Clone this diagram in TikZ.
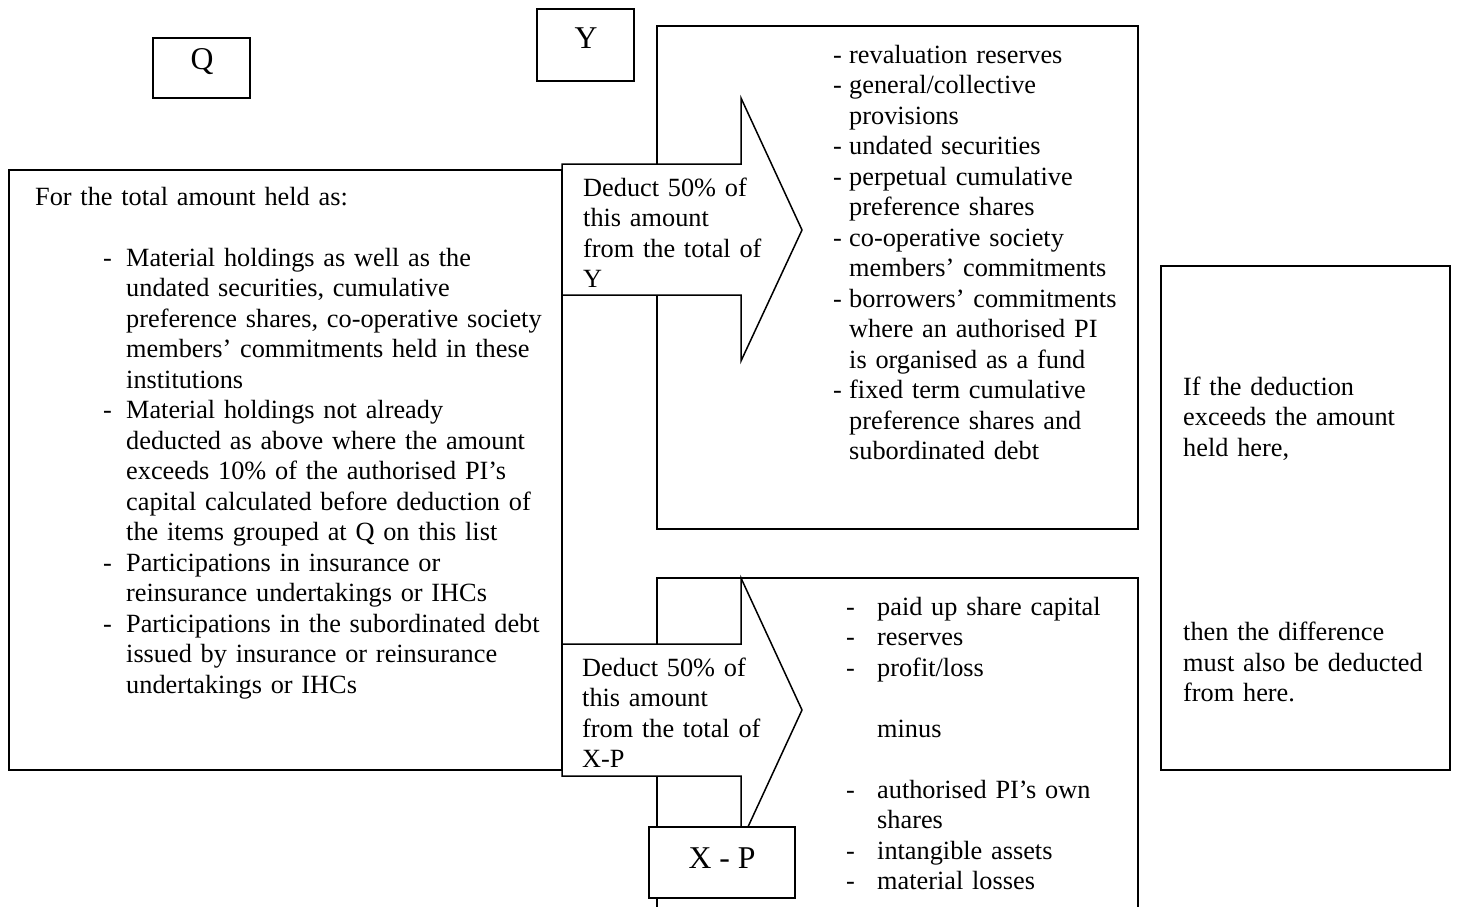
\documentclass[tikz,border=0pt]{standalone}
\usepackage{fontspec}
\setmainfont{Liberation Serif}
\usetikzlibrary{calc}

\newcommand{\dashcol}[1]{\makebox[#1][l]{-}}

\tikzset{
  box/.style={draw, line width=1.5pt, fill=white},
  body/.style={font=\fontsize{26.3}{30.5}\selectfont, inner sep=0pt, anchor=north west, align=left, text width=620pt},
  tag/.style={font=\fontsize{31.7}{36}\selectfont, inner sep=0pt, anchor=base}
}

\begin{document}
\begin{tikzpicture}[x=1pt, y=-1pt]

\useasboundingbox (0,0) rectangle (1464,906);

\draw[box] (153,38) rectangle (250,98);
\draw[box] (537,9) rectangle (634,81);
\draw[box] (9,170) rectangle (562,770);
\draw[box] (657,26) rectangle (1138,529);
\draw[line width=1.5pt] (657,912) -- (657,578) -- (1138,578) -- (1138,912);
\draw[box] (1161,266) rectangle (1450,770);

\draw[box] (562,164) -- (741,164) -- (741,98) -- (802,230) -- (741,361) -- (741,295) -- (562,295) -- cycle;
\draw[box] (562,644) -- (741,644) -- (741,578) -- (802,710) -- (741,842) -- (741,776) -- (562,776) -- cycle;
\draw[box] (649,827) rectangle (795,898);

\node[tag] (qtag) at (202,69) {Q};
\node[tag] (ytag) at (586,48) {Y};
\node[tag] (xptag) at (722,868) {X - P};

\node[body] (heldas) at (35,183.65) {\strut For the total amount held as:};

\node[body] (holdings) at (103,244.65) {\strut\dashcol{23pt}Material holdings as well as the\\
\hspace*{23pt}undated securities, cumulative\\
\hspace*{23pt}preference shares, co-operative society\\
\hspace*{23pt}members’ commitments held in these\\
\hspace*{23pt}institutions\\
\dashcol{23pt}Material holdings not already\\
\hspace*{23pt}deducted as above where the amount\\
\hspace*{23pt}exceeds 10\% of the authorised PI’s\\
\hspace*{23pt}capital calculated before deduction of\\
\hspace*{23pt}the items grouped at Q on this list\\
\dashcol{23pt}Participations in insurance or\\
\hspace*{23pt}reinsurance undertakings or IHCs\\
\dashcol{23pt}Participations in the subordinated debt\\
\hspace*{23pt}issued by insurance or reinsurance\\
\hspace*{23pt}undertakings or IHCs};

\node[body] (deducty) at (583,174.65) {\strut Deduct 50\% of\\this amount\\from the total of\\Y};
\node[body] (deductxp) at (582,654.65) {\strut Deduct 50\% of\\this amount\\from the total of\\X-P};

\node[body] (tier2) at (833,41.65) {\strut\dashcol{16pt}revaluation reserves\\
\dashcol{16pt}general/collective\\
\hspace*{16pt}provisions\\
\dashcol{16pt}undated securities\\
\dashcol{16pt}perpetual cumulative\\
\hspace*{16pt}preference shares\\
\dashcol{16pt}co-operative society\\
\hspace*{16pt}members’ commitments\\
\dashcol{16pt}borrowers’ commitments\\
\hspace*{16pt}where an authorised PI\\
\hspace*{16pt}is organised as a fund\\
\dashcol{16pt}fixed term cumulative\\
\hspace*{16pt}preference shares and\\
\hspace*{16pt}subordinated debt};

\node[body] (tier1) at (846,593.65) {\strut\dashcol{31pt}paid up share capital\\
\dashcol{31pt}reserves\\
\dashcol{31pt}profit/loss\\[30.5pt]
\hspace*{31pt}minus\\[30.5pt]
\dashcol{31pt}authorised PI’s own\\
\hspace*{31pt}shares\\
\dashcol{31pt}intangible assets\\
\dashcol{31pt}material losses};

\node[body] (excess) at (1183,373.65) {\strut If the deduction\\exceeds the amount\\held here,\\[154pt]
then the difference\\must also be deducted\\from here.};

\end{tikzpicture}
\end{document}
